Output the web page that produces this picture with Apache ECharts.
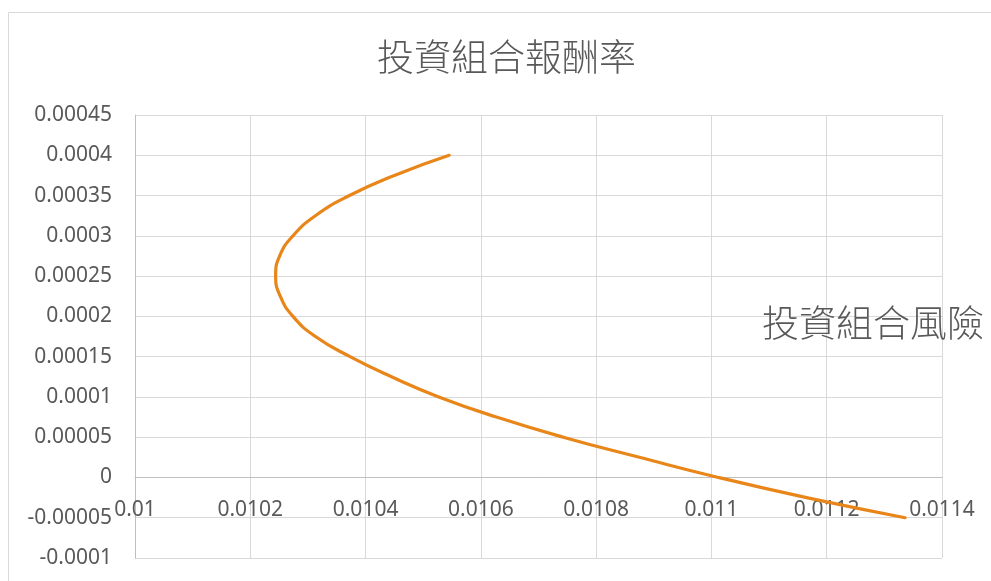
<!DOCTYPE html>
<html>
<head>
<meta charset="utf-8">
<script src="https://cdn.jsdelivr.net/npm/echarts@6/dist/echarts.min.js"></script>
<style>
html,body{margin:0;padding:0;background:#fff;}
#chart{width:991px;height:581px;}
</style>
</head>
<body>
<div id="chart"></div>
<script>
// Portfolio risk (x) and return (y)
const riskValues = [0.010545, 0.010450, 0.010372, 0.010313, 0.010274, 0.010251, 0.010244, 0.010252, 0.010274, 0.010313, 0.010373, 0.010445, 0.010527, 0.010627, 0.010743, 0.010875, 0.011012, 0.011165, 0.011336];
const returnValues = [0.0004, 0.000375, 0.00035, 0.000325, 0.0003, 0.000275, 0.00025, 0.000225, 0.0002, 0.000175, 0.00015, 0.000125, 0.0001, 0.000075, 0.00005, 0.000025, 0, -0.000025, -0.00005];
const titleText = '投資組合報酬率';
const riskLabel = '投資組合風險';
const yMin = -0.0001, yMax = 0.00045, yStep = 0.00005;
const xMin = 0.01, xMax = 0.0114, xStep = 0.0002;

const points = riskValues.map((x, i) => [x, returnValues[i]]);

const chart = echarts.init(document.getElementById('chart'));
const labelFont = 'Noto Sans, Open Sans, sans-serif';
const cjkFont = 'Noto Sans CJK TC, Noto Sans CJK SC, sans-serif';
chart.setOption({
  backgroundColor: '#ffffff',
  animation: false,
  title: [
    { text: titleText, left: 372, top: 33,
      textStyle: { fontFamily: cjkFont, fontSize: 37, fontWeight: 300, color: '#595959' } },
    { text: riskLabel, left: 757, top: 299,
      textStyle: { fontFamily: cjkFont, fontSize: 37, fontWeight: 300, color: '#595959' } }
  ],
  graphic: [{
    type: 'rect', silent: true, z: -1,
    shape: { x: 8.5, y: 12.5, width: 1100, height: 700 },
    style: { fill: 'none', stroke: '#d9d9d9', lineWidth: 1 }
  }],
  grid: { left: 135, right: 49, top: 115, bottom: 23, containLabel: false, outerBoundsMode: 'none' },
  xAxis: {
    type: 'value', min: xMin, max: xMax, interval: xStep, position: 'bottom',
    axisLine: { show: true, onZero: false, lineStyle: { color: '#bfbfbf', width: 1 } },
    axisTick: { show: false },
    splitLine: { show: true, lineStyle: { color: '#d9d9d9', width: 1 } },
    axisLabel: { margin: 22, color: '#595959', fontFamily: labelFont, fontSize: 21,
      showMinLabel: true, showMaxLabel: true, hideOverlap: false,
      formatter: v => String(parseFloat(v.toFixed(4))) }
  },
  yAxis: {
    type: 'value', min: yMin, max: yMax, interval: yStep,
    axisLine: { show: true, lineStyle: { color: '#bfbfbf', width: 1 } },
    axisTick: { show: false },
    splitLine: { show: true, lineStyle: { color: '#d9d9d9', width: 1 } },
    axisLabel: { margin: 23, color: '#595959', fontFamily: labelFont, fontSize: 21, hideOverlap: false,
      formatter: v => String(parseFloat(v.toFixed(5))) }
  },
  series: [{
    type: 'line',
    data: points,
    smooth: 0.5,
    showSymbol: false,
    z: 5,
    lineStyle: { color: '#E8861A', width: 3.2, cap: 'round' },
    itemStyle: { color: '#E8861A' }
  }]
});
// Move the x axis so that it crosses the y axis at zero, using the library's own scale
const pZero = chart.convertToPixel({ yAxisIndex: 0 }, 0);
const pBottom = chart.convertToPixel({ yAxisIndex: 0 }, yMin);
chart.setOption({ xAxis: { offset: pZero - pBottom } });
</script>
</body>
</html>
